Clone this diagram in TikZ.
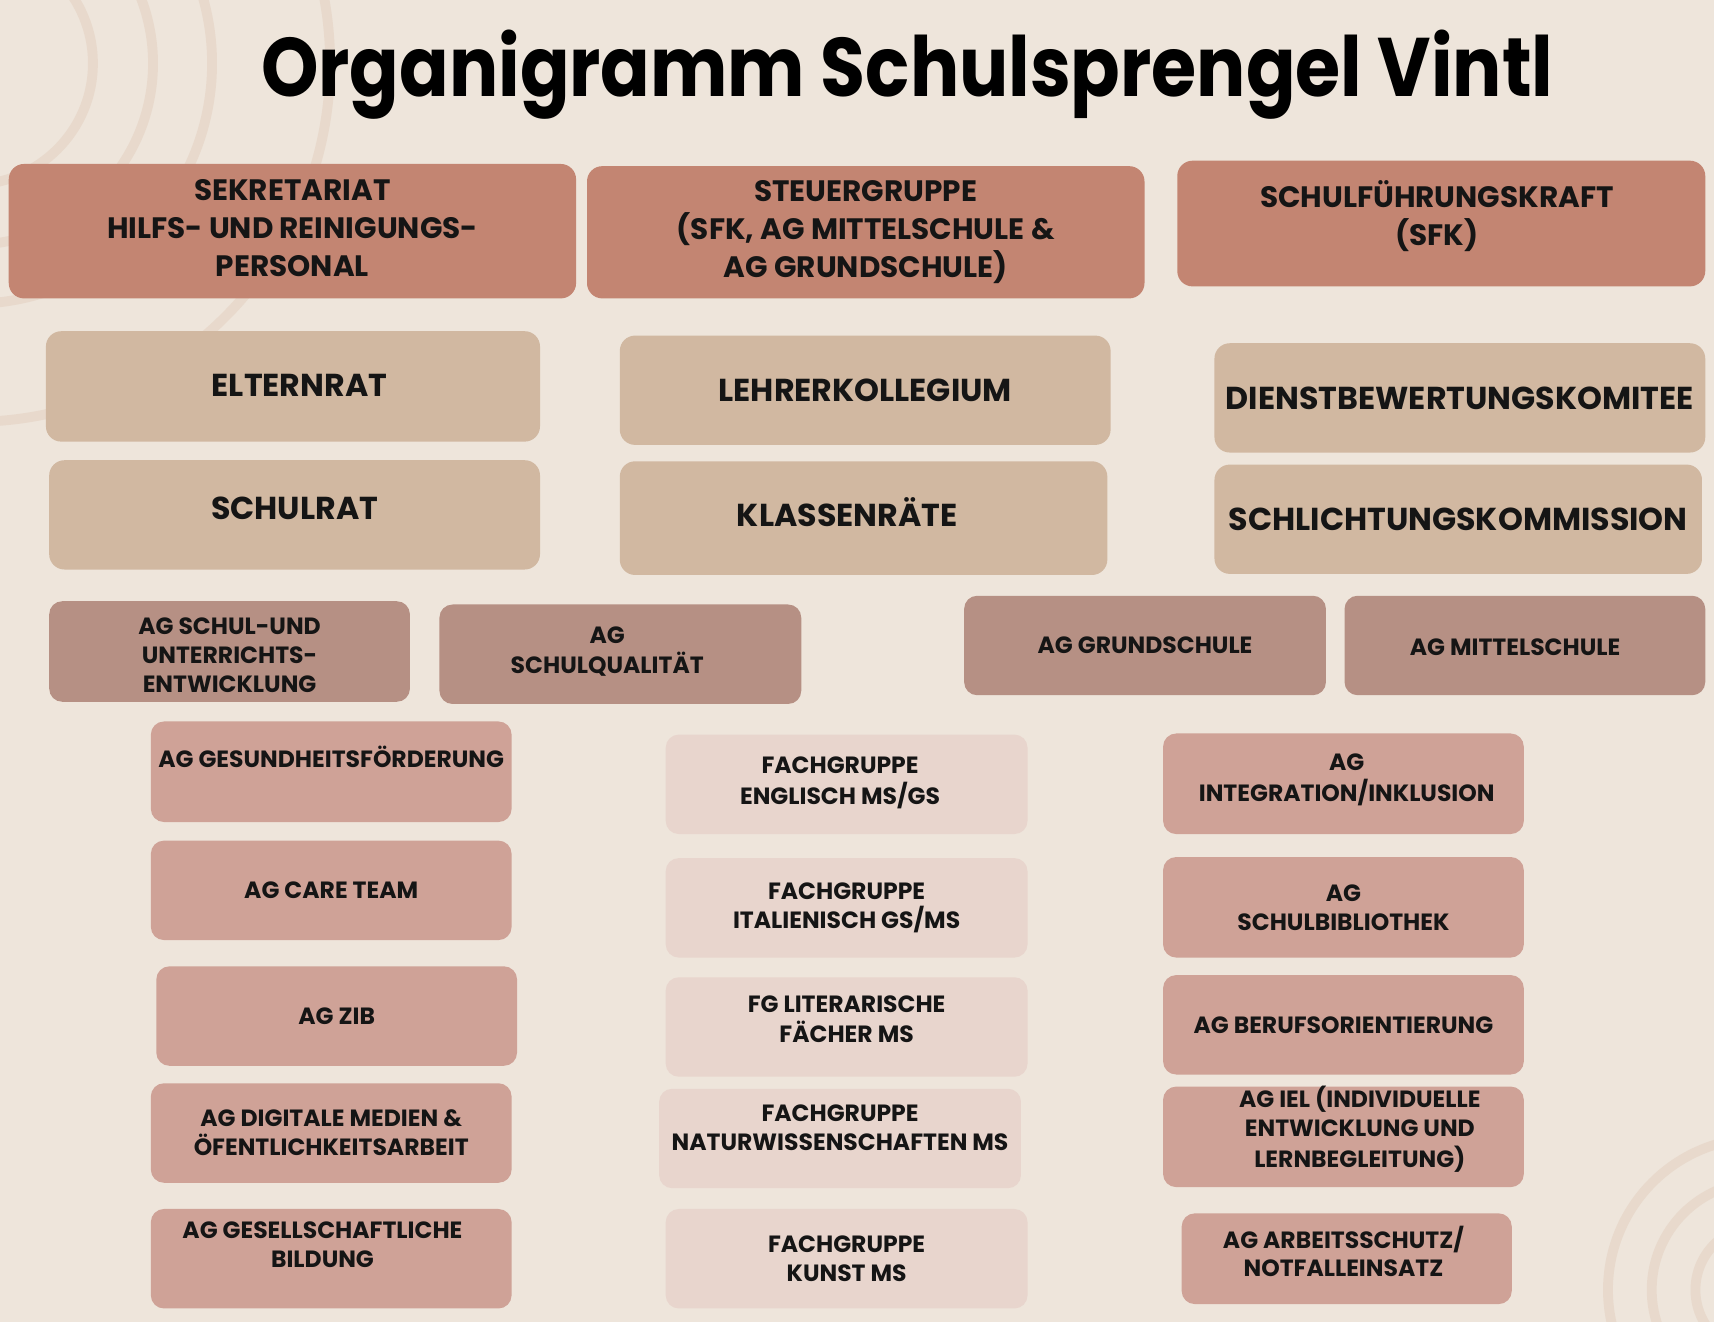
\documentclass[tikz,border=0pt]{standalone}
\usepackage{fontspec}
\newfontfamily\boxfont{Poppins}
\newfontfamily\titlefont{Poppins}[FakeStretch=0.88]
\definecolor{bgc}{HTML}{EEE5DB}
\definecolor{ringc}{HTML}{E8D9CC}
\definecolor{cone}{HTML}{C38572}
\definecolor{ctwo}{HTML}{D1B8A1}
\definecolor{cthree}{HTML}{B69084}
\definecolor{cfour}{HTML}{CFA297}
\definecolor{cfive}{HTML}{E8D5CD}
\definecolor{ink}{HTML}{151515}
\newcommand\lift[3]{\hspace*{#1}\raisebox{#2}[0pt][0pt]{\begin{tabular}{@{}c@{}}#3\end{tabular}}}
\begin{document}
\begin{tikzpicture}[x=1pt,y=-1pt,
  basebox/.style={rounded corners=14pt, draw=none, inner sep=0pt, align=center, text=ink},
  toprow/.style={basebox, fill=cone, font=\boxfont\bfseries\fontsize{27}{35}\selectfont},
  midrow/.style={basebox, fill=ctwo, font=\boxfont\bfseries\fontsize{29}{36}\selectfont},
  agrow/.style={basebox, rounded corners=12pt, fill=cthree, font=\boxfont\bfseries\fontsize{21.5}{26.5}\selectfont},
  agbox/.style={basebox, rounded corners=12pt, fill=cfour, font=\boxfont\bfseries\fontsize{21.5}{26.5}\selectfont},
  fgbox/.style={basebox, rounded corners=12pt, fill=cfive, font=\boxfont\bfseries\fontsize{21.5}{26.5}\selectfont},
  dim/.style 2 args={minimum width=#1pt, minimum height=#2pt}
]
\useasboundingbox (0,0) rectangle (1568,1209);
\fill[bgc] (0,0) rectangle (1568,1209);
\begin{scope}
\clip (0,0) rectangle (1568,1209);
\foreach \r in {111,166,220,328} \draw[ringc, line width=9pt] (-26,58) circle[radius=\r];
\foreach \r in {59,99,139} \draw[ringc, line width=9pt] (1610,1180) circle[radius=\r];
\end{scope}

\node[font=\titlefont\bfseries\fontsize{76}{84}\selectfont, text=black, anchor=base, inner sep=0pt] (title) at (830,88) {Organigramm Schulsprengel Vintl};

% top row
\node[toprow, dim={519}{123}] (sek) at (267.5,211.5) {\lift{0pt}{-5.7pt}{SEKRETARIAT\\HILFS- UND REINIGUNGS-\\PERSONAL}};
\node[toprow, dim={510}{121}] (steu) at (792,212.5) {STEUERGRUPPE\\(SFK, AG MITTELSCHULE \&\\AG GRUNDSCHULE)};
\node[toprow, dim={483}{115}] (sfk) at (1318.5,204.5) {\lift{-8pt}{-1.7pt}{SCHULFÜHRUNGSKRAFT\\(SFK)}};

% second tier
\node[midrow, dim={452}{101}] (eltern) at (268,353.5) {\lift{12pt}{-8.7pt}{ELTERNRAT}};
\node[midrow, dim={449}{100}] (lehrer) at (791.5,357) {LEHRERKOLLEGIUM};
\node[midrow, dim={449}{100}] (dienst) at (1335.5,364) {DIENSTBEWERTUNGSKOMITEE};
\node[midrow, dim={449}{100}] (schulrat) at (269.5,471) {\lift{0pt}{-3.2pt}{SCHULRAT}};
\node[midrow, dim={446}{104}] (klassen) at (790,474) {\lift{-30pt}{-6.2pt}{KLASSENRÄTE}};
\node[midrow, dim={446}{100}] (schlicht) at (1334,475) {SCHLICHTUNGSKOMMISSION};

% AG row
\node[agrow, dim={330}{92}] (agsue) at (210,596) {\lift{0pt}{-10.6pt}{AG SCHUL-UND\\UNTERRICHTS-\\ENTWICKLUNG}};
\node[agrow, dim={331}{91}] (agsq) at (567.5,598.5) {\lift{-24pt}{-3.4pt}{AG\\SCHULQUALITÄT}};
\node[agrow, dim={331}{91}] (aggs) at (1047.5,590.5) {AG GRUNDSCHULE};
\node[agrow, dim={330}{91}] (agms) at (1395,590.5) {\lift{-18pt}{-9.1pt}{AG MITTELSCHULE}};

% left column
\node[agbox, dim={330}{92}] (gesund) at (303,706) {\lift{0pt}{4.1pt}{AG GESUNDHEITSFÖRDERUNG}};
\node[agbox, dim={330}{91}] (care) at (303,814.5) {AG CARE TEAM};
\node[agbox, dim={330}{91}] (zib) at (308,929.5) {AG ZIB};
\node[agbox, dim={330}{91}] (digi) at (303,1036.5) {AG DIGITALE MEDIEN \&\\ÖFENTLICHKEITSARBEIT};
\node[agbox, dim={330}{91}] (gesell) at (303,1151.5) {\lift{-16pt}{5.1pt}{AG GESELLSCHAFTLICHE\\BILDUNG}};

% middle column
\node[fgbox, dim={331}{91}] (engl) at (774.5,717.5) {\lift{-12pt}{-4.4pt}{FACHGRUPPE\\ENGLISCH MS/GS}};
\node[fgbox, dim={331}{91}] (ital) at (774.5,830.5) {FACHGRUPPE\\ITALIENISCH GS/MS};
\node[fgbox, dim={331}{91}] (lit) at (774.5,939.5) {\lift{0pt}{-0.6pt}{FG LITERARISCHE\\FÄCHER MS}};
\node[fgbox, dim={331}{91}] (natur) at (768.5,1041.5) {\lift{0pt}{2.1pt}{FACHGRUPPE\\NATURWISSENSCHAFTEN MS}};
\node[fgbox, dim={331}{91}] (kunst) at (774.5,1151.5) {FACHGRUPPE\\KUNST MS};

% right column
\node[agbox, dim={330}{92}] (integ) at (1229,717) {\lift{6pt}{-1.6pt}{AG\\INTEGRATION/INKLUSION}};
\node[agbox, dim={330}{92}] (bibl) at (1229,830) {AG\\SCHULBIBLIOTHEK};
\node[agbox, dim={330}{91}] (beruf) at (1229,937.5) {AG BERUFSORIENTIERUNG};
\node[agbox, dim={330}{92}] (iel) at (1229,1040) {\lift{30pt}{0.1pt}{AG IEL (INDIVIDUELLE\\ENTWICKLUNG UND\\LERNBEGLEITUNG)}};
\node[agbox, dim={302}{83}] (arbeit) at (1232,1151.5) {\lift{-6pt}{-2.4pt}{AG ARBEITSSCHUTZ/\\NOTFALLEINSATZ}};
\end{tikzpicture}
\end{document}
